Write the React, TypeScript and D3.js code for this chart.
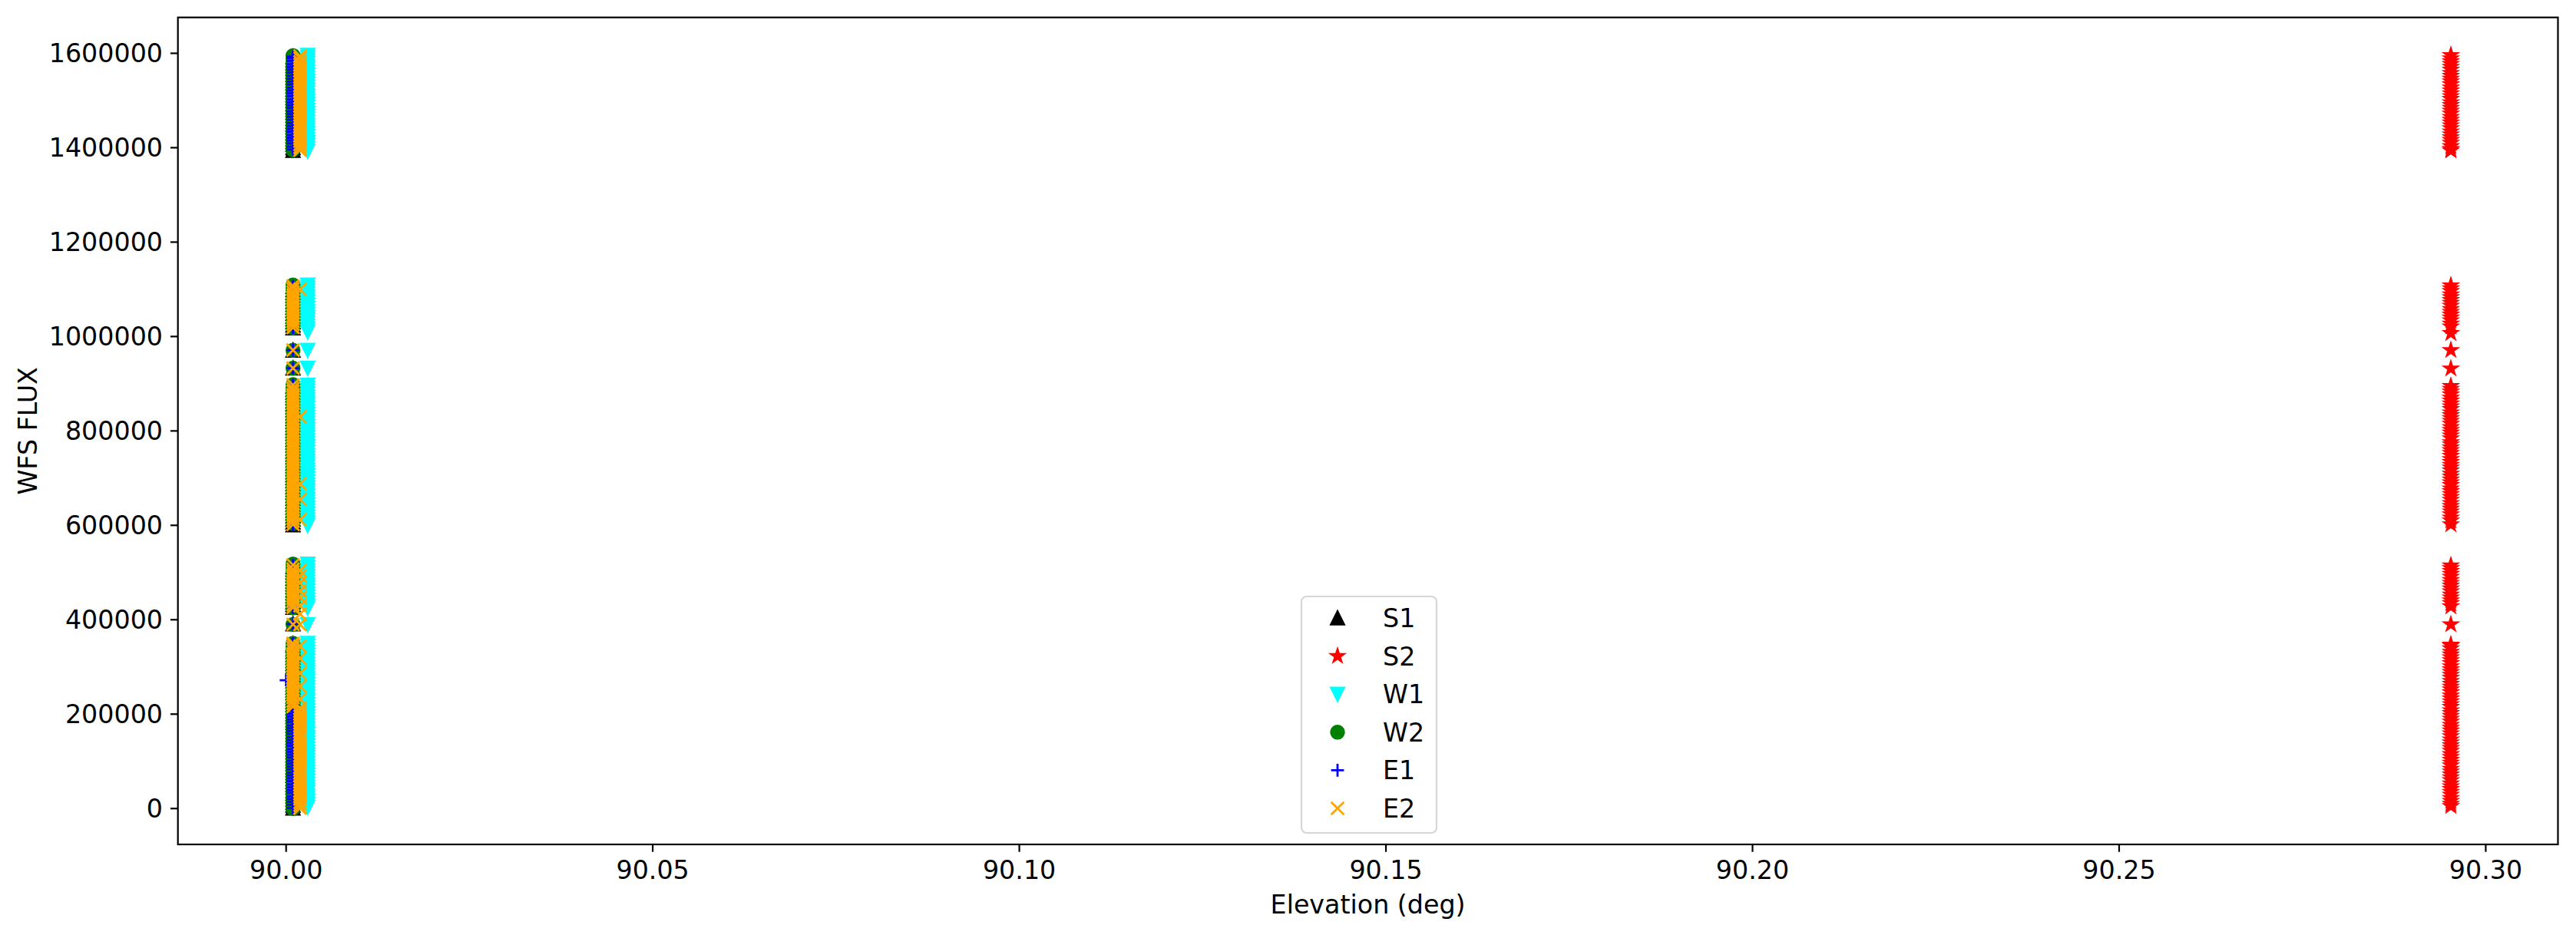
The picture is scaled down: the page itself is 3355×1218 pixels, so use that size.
import * as d3 from 'd3';

// WFS flux vs elevation, one scatter series per sensor

const WIDTH = 3355;
const HEIGHT = 1218;
const PLOT = { left: 231.7, right: 3331.5, top: 22.7, bottom: 1100 };

const X_DOMAIN: [number, number] = [89.98524, 90.30985];
const Y_DOMAIN: [number, number] = [-76000, 1676000];
const X_TICKS = [90.0, 90.05, 90.1, 90.15, 90.2, 90.25, 90.3];
const Y_TICKS = [0, 200000, 400000, 600000, 800000, 1000000, 1200000, 1400000, 1600000];

const SERIES_NAMES = ['S1', 'S2', 'W1', 'W2', 'E1', 'E2'];

// elevations (deg) of each sensor's readings
const S1_ELEV = 90.00094;
const S2_ELEV = 90.29524;
const W1_ELEV = 90.00294;
const W2_ELEV = 90.00094;
const E1_ELEV = 90.00094;
const E1_ELEV_OUT = 90.0;
const E2_ELEV_NEAR = 90.00094;
const E2_ELEV_FAR = 90.0019;

const S1_FLUX = [
  1394e3, 1400e3, 1407e3, 1413e3, 1419e3, 1425e3, 1431e3, 1438e3, 1444e3, 1450e3, 1456e3, 1462e3, 1469e3,
  1475e3, 1481e3, 1487e3, 1493e3, 1500e3, 1506e3, 1512e3, 1518e3, 1524e3, 1531e3, 1537e3, 1543e3, 1549e3,
  1555e3, 1562e3, 1568e3, 1574e3, 1580e3, 1586e3, 1593e3,
  1018e3, 1024e3, 1031e3, 1037e3, 1043e3, 1049e3, 1056e3, 1062e3, 1068e3, 1074e3, 1081e3, 1087e3, 1093e3,
  1099e3, 1106e3,
  971e3, 933e3,
  601e3, 607e3, 613e3, 620e3, 626e3, 632e3, 638e3, 645e3, 651e3, 657e3, 663e3, 670e3, 676e3, 682e3, 688e3,
  695e3, 701e3, 707e3, 713e3, 720e3, 726e3, 732e3, 738e3, 745e3, 751e3, 757e3, 763e3, 770e3, 776e3, 782e3,
  788e3, 795e3, 801e3, 807e3, 813e3, 820e3, 826e3, 832e3, 838e3, 845e3, 851e3, 857e3, 863e3, 870e3, 876e3,
  882e3, 888e3, 895e3,
  426e3, 432e3, 438e3, 445e3, 451e3, 457e3, 463e3, 470e3, 476e3, 482e3, 488e3, 495e3, 501e3, 507e3, 513e3,
  391e3,
  1e3, 7e3, 13e3, 20e3, 26e3, 32e3, 38e3, 45e3, 51e3, 57e3, 63e3, 70e3, 76e3, 82e3, 88e3, 95e3, 101e3,
  107e3, 113e3, 120e3, 126e3, 132e3, 138e3, 145e3, 151e3, 157e3, 163e3, 170e3, 176e3, 182e3, 188e3, 195e3,
  201e3, 207e3, 213e3, 220e3, 226e3, 232e3, 238e3, 245e3, 251e3, 257e3, 263e3, 270e3, 276e3, 282e3, 288e3,
  295e3, 301e3, 307e3, 313e3, 320e3, 326e3, 332e3, 338e3, 345e3, 349e3,
];

const S2_FLUX = [
  1394e3, 1397e3, 1403e3, 1410e3, 1416e3, 1422e3, 1428e3, 1434e3, 1441e3, 1447e3, 1453e3, 1459e3, 1465e3,
  1472e3, 1478e3, 1484e3, 1490e3, 1496e3, 1503e3, 1509e3, 1515e3, 1521e3, 1527e3, 1534e3, 1540e3, 1546e3,
  1552e3, 1558e3, 1565e3, 1571e3, 1577e3, 1583e3, 1589e3, 1596e3,
  1007e3, 1021e3, 1027e3, 1034e3, 1040e3, 1046e3, 1052e3, 1058e3, 1065e3, 1071e3, 1077e3, 1083e3, 1089e3,
  1096e3, 1102e3, 1108e3,
  971e3, 932e3,
  602e3, 610e3, 616e3, 623e3, 629e3, 635e3, 641e3, 647e3, 654e3, 660e3, 666e3, 672e3, 678e3, 685e3, 691e3,
  697e3, 703e3, 709e3, 716e3, 722e3, 728e3, 734e3, 740e3, 747e3, 753e3, 759e3, 765e3, 771e3, 776e3, 784e3,
  790e3, 796e3, 802e3, 808e3, 815e3, 821e3, 827e3, 833e3, 839e3, 846e3, 852e3, 858e3, 864e3, 870e3, 877e3,
  883e3, 889e3, 895e3,
  428e3, 435e3, 441e3, 447e3, 453e3, 460e3, 466e3, 472e3, 478e3, 484e3, 491e3, 497e3, 503e3, 509e3, 515e3,
  390e3,
  5e3, 10e3, 16e3, 22e3, 29e3, 35e3, 41e3, 47e3, 53e3, 60e3, 66e3, 72e3, 78e3, 84e3, 91e3, 97e3, 103e3,
  109e3, 115e3, 122e3, 128e3, 134e3, 140e3, 146e3, 153e3, 159e3, 165e3, 171e3, 177e3, 184e3, 190e3, 196e3,
  202e3, 208e3, 215e3, 221e3, 227e3, 233e3, 239e3, 246e3, 252e3, 258e3, 264e3, 270e3, 277e3, 283e3, 289e3,
  295e3, 301e3, 308e3, 314e3, 320e3, 326e3, 332e3, 339e3, 345e3, 347e3,
];

const W1_FLUX = [
  1393e3, 1399e3, 1405e3, 1411e3, 1417e3, 1424e3, 1430e3, 1436e3, 1442e3, 1448e3, 1455e3, 1461e3, 1467e3,
  1473e3, 1479e3, 1486e3, 1492e3, 1498e3, 1504e3, 1510e3, 1517e3, 1523e3, 1529e3, 1535e3, 1541e3, 1548e3,
  1554e3, 1560e3, 1566e3, 1572e3, 1579e3, 1585e3, 1591e3, 1596e3,
  1010e3, 1016e3, 1022e3, 1029e3, 1035e3, 1041e3, 1047e3, 1053e3, 1060e3, 1066e3, 1072e3, 1078e3, 1084e3,
  1091e3, 1097e3, 1103e3, 1109e3,
  971e3, 933e3,
  600e3, 606e3, 612e3, 618e3, 624e3, 631e3, 637e3, 643e3, 649e3, 655e3, 662e3, 668e3, 674e3, 680e3, 686e3,
  693e3, 699e3, 705e3, 711e3, 717e3, 724e3, 730e3, 736e3, 742e3, 748e3, 755e3, 761e3, 767e3, 773e3, 779e3,
  786e3, 792e3, 798e3, 804e3, 810e3, 817e3, 823e3, 829e3, 835e3, 841e3, 848e3, 854e3, 860e3, 866e3, 872e3,
  879e3, 885e3, 891e3, 897e3,
  425e3, 430e3, 436e3, 442e3, 449e3, 455e3, 461e3, 467e3, 473e3, 480e3, 486e3, 492e3, 498e3, 504e3, 511e3,
  518e3,
  390e3,
  3e3, 9e3, 15e3, 21e3, 27e3, 34e3, 40e3, 46e3, 52e3, 58e3, 65e3, 71e3, 77e3, 83e3, 89e3, 96e3, 102e3,
  108e3, 114e3, 120e3, 127e3, 133e3, 139e3, 145e3, 151e3, 158e3, 164e3, 170e3, 176e3, 182e3, 189e3, 195e3,
  201e3, 207e3, 213e3, 220e3, 226e3, 232e3, 238e3, 244e3, 251e3, 257e3, 263e3, 269e3, 275e3, 282e3, 288e3,
  294e3, 300e3, 306e3, 313e3, 319e3, 325e3, 331e3, 337e3, 344e3, 350e3,
];

const W2_FLUX = [
  1395e3, 1401e3, 1408e3, 1414e3, 1420e3, 1426e3, 1433e3, 1439e3, 1445e3, 1451e3, 1458e3, 1464e3, 1470e3,
  1476e3, 1483e3, 1489e3, 1495e3, 1501e3, 1508e3, 1514e3, 1520e3, 1526e3, 1533e3, 1539e3, 1545e3, 1551e3,
  1558e3, 1564e3, 1570e3, 1576e3, 1583e3, 1589e3, 1595e3,
  1018e3, 1024e3, 1030e3, 1037e3, 1043e3, 1049e3, 1055e3, 1062e3, 1068e3, 1074e3, 1080e3, 1087e3, 1093e3,
  1099e3, 1105e3, 1109e3,
  971e3, 933e3,
  604e3, 610e3, 616e3, 623e3, 629e3, 635e3, 641e3, 648e3, 654e3, 660e3, 666e3, 673e3, 679e3, 685e3, 691e3,
  698e3, 704e3, 710e3, 716e3, 723e3, 729e3, 735e3, 741e3, 748e3, 754e3, 760e3, 766e3, 773e3, 779e3, 785e3,
  791e3, 798e3, 804e3, 810e3, 816e3, 823e3, 829e3, 835e3, 841e3, 848e3, 854e3, 860e3, 866e3, 873e3, 879e3,
  885e3, 891e3, 898e3,
  425e3, 431e3, 437e3, 444e3, 450e3, 456e3, 462e3, 469e3, 475e3, 481e3, 487e3, 494e3, 500e3, 506e3, 512e3,
  518e3,
  390e3,
  0, 6e3, 12e3, 19e3, 25e3, 31e3, 37e3, 44e3, 50e3, 56e3, 62e3, 69e3, 75e3, 81e3, 87e3, 94e3, 100e3,
  106e3, 112e3, 119e3, 125e3, 131e3, 137e3, 144e3, 150e3, 156e3, 162e3, 169e3, 175e3, 181e3, 187e3, 194e3,
  200e3, 206e3, 212e3, 219e3, 225e3, 231e3, 237e3, 244e3, 250e3, 256e3, 262e3, 269e3, 275e3, 281e3, 287e3,
  294e3, 300e3, 306e3, 312e3, 319e3, 325e3, 331e3, 337e3, 344e3, 350e3,
];

const E1_FLUX = [
  1396e3, 1402e3, 1409e3, 1415e3, 1421e3, 1427e3, 1434e3, 1440e3, 1446e3, 1452e3, 1459e3, 1465e3, 1471e3,
  1477e3, 1484e3, 1490e3, 1496e3, 1502e3, 1509e3, 1515e3, 1521e3, 1527e3, 1534e3, 1540e3, 1546e3, 1552e3,
  1559e3, 1565e3, 1571e3, 1577e3, 1584e3, 1590e3, 1593e3,
  1019e3, 1025e3, 1032e3, 1038e3, 1044e3, 1050e3, 1057e3, 1063e3, 1069e3, 1075e3, 1082e3, 1088e3, 1094e3,
  1100e3, 1106e3,
  971e3, 933e3,
  601e3, 608e3, 614e3, 620e3, 626e3, 633e3, 639e3, 645e3, 651e3, 658e3, 664e3, 670e3, 676e3, 683e3, 689e3,
  695e3, 701e3, 708e3, 714e3, 720e3, 726e3, 733e3, 739e3, 745e3, 751e3, 758e3, 764e3, 770e3, 776e3, 783e3,
  789e3, 795e3, 801e3, 808e3, 814e3, 820e3, 826e3, 833e3, 839e3, 845e3, 851e3, 858e3, 864e3, 870e3, 876e3,
  883e3, 889e3, 897e3,
  426e3, 433e3, 439e3, 445e3, 451e3, 458e3, 464e3, 470e3, 476e3, 483e3, 489e3, 495e3, 501e3, 508e3, 515e3,
  391e3,
  1e3, 8e3, 14e3, 20e3, 26e3, 33e3, 39e3, 45e3, 51e3, 58e3, 64e3, 70e3, 76e3, 83e3, 89e3, 95e3, 101e3,
  108e3, 114e3, 120e3, 126e3, 133e3, 139e3, 145e3, 151e3, 158e3, 164e3, 170e3, 176e3, 183e3, 189e3, 195e3,
  201e3, 208e3, 214e3, 220e3, 226e3, 233e3, 239e3, 245e3, 251e3, 258e3, 264e3, 270e3, 276e3, 283e3, 289e3,
  295e3, 301e3, 308e3, 314e3, 320e3, 326e3, 333e3, 339e3, 345e3, 349e3,
];

const E1_FLUX_OUT = [272e3];

const E2_FLUX_NEAR = [
  1019e3, 1026e3, 1032e3, 1038e3, 1044e3, 1051e3, 1057e3, 1063e3, 1069e3, 1076e3, 1082e3, 1088e3, 1094e3,
  1101e3, 1107e3,
  971e3, 933e3,
  602e3, 609e3, 615e3, 621e3, 627e3, 634e3, 640e3, 646e3, 652e3, 659e3, 665e3, 671e3, 677e3, 684e3, 690e3,
  696e3, 702e3, 709e3, 715e3, 721e3, 727e3, 734e3, 740e3, 746e3, 752e3, 759e3, 765e3, 771e3, 777e3, 784e3,
  790e3, 796e3, 802e3, 809e3, 815e3, 821e3, 827e3, 834e3, 840e3, 846e3, 852e3, 859e3, 865e3, 871e3, 877e3,
  884e3, 890e3, 897e3,
  426e3, 432e3, 439e3, 445e3, 451e3, 457e3, 464e3, 470e3, 476e3, 482e3, 489e3, 495e3, 501e3, 507e3, 516e3,
  390e3,
  216e3, 222e3, 228e3, 235e3, 241e3, 247e3, 253e3, 260e3, 266e3, 272e3, 278e3, 285e3, 291e3, 297e3, 303e3,
  310e3, 316e3, 322e3, 328e3, 335e3, 341e3, 347e3, 350e3,
];

const E2_FLUX_FAR = [
  1395e3, 1401e3, 1407e3, 1414e3, 1420e3, 1426e3, 1432e3, 1439e3, 1445e3, 1451e3, 1457e3, 1464e3, 1470e3,
  1476e3, 1482e3, 1489e3, 1495e3, 1501e3, 1507e3, 1514e3, 1520e3, 1526e3, 1532e3, 1539e3, 1545e3, 1551e3,
  1557e3, 1564e3, 1570e3, 1576e3, 1582e3, 1589e3, 1594e3,
  1100e3, 830e3, 688e3, 655e3, 612e3,
  504e3, 493e3, 478e3, 461e3, 447e3, 430e3, 412e3,
  390e3,
  1e3, 7e3, 13e3, 20e3, 26e3, 32e3, 38e3, 45e3, 51e3, 57e3, 63e3, 70e3, 76e3, 82e3, 88e3, 95e3, 101e3,
  107e3, 113e3, 120e3, 126e3, 132e3, 138e3, 145e3, 151e3, 157e3, 163e3, 170e3, 176e3, 182e3, 188e3, 195e3,
  201e3, 207e3, 213e3,
  232e3, 259e3, 287e3, 318e3, 344e3,
];

type Marker = 'triangleUp' | 'star' | 'triangleDown' | 'circle' | 'plus' | 'cross';

const MS = 16.7; // marker size, px
const MEW = 2.78; // marker edge width, px

const markerPath = (kind: Marker, ms: number): string => {
  const h = ms / 2;
  if (kind === 'triangleUp') return `M0,${-h}L${-h},${h}L${h},${h}Z`;
  if (kind === 'triangleDown') return `M0,${h}L${-h},${-h}L${h},${-h}Z`;
  if (kind === 'plus') return `M${-h},0L${h},0M0,${-h}L0,${h}`;
  if (kind === 'cross') return `M${-h},${-h}L${h},${h}M${-h},${h}L${h},${-h}`;
  if (kind === 'circle') {
    const p = d3.path();
    p.arc(0, 0, h, 0, Math.PI * 2);
    return p.toString();
  }
  // five-pointed star, inner radius 0.381966 of the outer one
  const pts: string[] = [];
  for (let i = 0; i < 10; i++) {
    const r = i % 2 === 0 ? h : h * 0.381966;
    const a = -Math.PI / 2 + (i * Math.PI) / 5;
    pts.push(`${r * Math.cos(a)},${r * Math.sin(a)}`);
  }
  return `M${pts.join('L')}Z`;
};

const isLine = (m: Marker) => m === 'plus' || m === 'cross';

const SERIES: { name: string; marker: Marker; color: string; groups: { elev: number; flux: number[] }[] }[] = [
  { name: SERIES_NAMES[0], marker: 'triangleUp', color: '#000000', groups: [{ elev: S1_ELEV, flux: S1_FLUX }] },
  { name: SERIES_NAMES[1], marker: 'star', color: '#ff0000', groups: [{ elev: S2_ELEV, flux: S2_FLUX }] },
  { name: SERIES_NAMES[2], marker: 'triangleDown', color: '#00ffff', groups: [{ elev: W1_ELEV, flux: W1_FLUX }] },
  { name: SERIES_NAMES[3], marker: 'circle', color: '#008000', groups: [{ elev: W2_ELEV, flux: W2_FLUX }] },
  {
    name: SERIES_NAMES[4], marker: 'plus', color: '#0000ff',
    groups: [{ elev: E1_ELEV, flux: E1_FLUX }, { elev: E1_ELEV_OUT, flux: E1_FLUX_OUT }],
  },
  {
    name: SERIES_NAMES[5], marker: 'cross', color: '#ffa500',
    groups: [{ elev: E2_ELEV_NEAR, flux: E2_FLUX_NEAR }, { elev: E2_ELEV_FAR, flux: E2_FLUX_FAR }],
  },
];

const FONT = '"DejaVu Sans", sans-serif';
const FS = 33.3;

export default function App() {
  const x = d3.scaleLinear().domain(X_DOMAIN).range([PLOT.left, PLOT.right]);
  const y = d3.scaleLinear().domain(Y_DOMAIN).range([PLOT.bottom, PLOT.top]);

  const legend = { x: 1695, y: 777, w: 176, h: 308, row0: 805, step: 49.6, mx: 1742, tx: 1801 };

  return (
    <svg
      width={WIDTH}
      height={HEIGHT}
      style={{ position: 'absolute', left: 0, top: 0, display: 'block', background: '#fff' }}
      fontFamily={FONT}
    >
      <rect x={0} y={0} width={WIDTH} height={HEIGHT} fill="#ffffff" />
      <defs>
        <clipPath id="plot-clip">
          <rect x={PLOT.left} y={PLOT.top} width={PLOT.right - PLOT.left} height={PLOT.bottom - PLOT.top} />
        </clipPath>
      </defs>

      {/* points */}
      <g clipPath="url(#plot-clip)">
        {SERIES.map((s) => {
          const d = markerPath(s.marker, MS);
          return (
            <g key={s.name}>
              {s.groups.flatMap((g, gi) =>
                g.flux.map((v, i) => (
                  <path
                    key={`${gi}-${i}`}
                    d={d}
                    transform={`translate(${x(g.elev)},${y(v)})`}
                    fill={isLine(s.marker) ? 'none' : s.color}
                    stroke={s.color}
                    strokeWidth={MEW}
                    strokeLinejoin="miter"
                  />
                ))
              )}
            </g>
          );
        })}
      </g>

      {/* x axis */}
      <g>
        {X_TICKS.map((t) => (
          <g key={t} transform={`translate(${x(t)},0)`}>
            <line y1={PLOT.bottom} y2={PLOT.bottom + 9.7} stroke="#000" strokeWidth={2.2} />
            <text y={1145} textAnchor="middle" fontSize={FS} fill="#000">
              {d3.format('.2f')(t)}
            </text>
          </g>
        ))}
        <text x={(PLOT.left + PLOT.right) / 2} y={1190} textAnchor="middle" fontSize={FS} fill="#000">
          Elevation (deg)
        </text>
      </g>

      {/* y axis */}
      <g>
        {Y_TICKS.map((t) => (
          <g key={t} transform={`translate(0,${y(t)})`}>
            <line x1={PLOT.left - 9.7} x2={PLOT.left} stroke="#000" strokeWidth={2.2} />
            <text x={212} y={12} textAnchor="end" fontSize={FS} fill="#000">
              {d3.format('d')(t)}
            </text>
          </g>
        ))}
        <text
          transform={`translate(48,${(PLOT.top + PLOT.bottom) / 2}) rotate(-90)`}
          textAnchor="middle"
          fontSize={FS}
          fill="#000"
        >
          WFS FLUX
        </text>
      </g>

      {/* frame */}
      <rect
        x={PLOT.left}
        y={PLOT.top}
        width={PLOT.right - PLOT.left}
        height={PLOT.bottom - PLOT.top}
        fill="none"
        stroke="#000"
        strokeWidth={2.2}
      />

      {/* legend */}
      <g>
        <rect
          x={legend.x}
          y={legend.y}
          width={legend.w}
          height={legend.h}
          rx={6.7}
          fill="#fff"
          fillOpacity={0.8}
          stroke="#cccccc"
          strokeOpacity={0.8}
          strokeWidth={2.2}
        />
        {SERIES.map((s, i) => {
          const cy = legend.row0 + i * legend.step;
          return (
            <g key={s.name}>
              <path
                d={markerPath(s.marker, MS)}
                transform={`translate(${legend.mx},${cy})`}
                fill={isLine(s.marker) ? 'none' : s.color}
                stroke={s.color}
                strokeWidth={MEW}
              />
              <text x={legend.tx} y={cy + 12} fontSize={FS} fill="#000">
                {s.name}
              </text>
            </g>
          );
        })}
      </g>
    </svg>
  );
}
